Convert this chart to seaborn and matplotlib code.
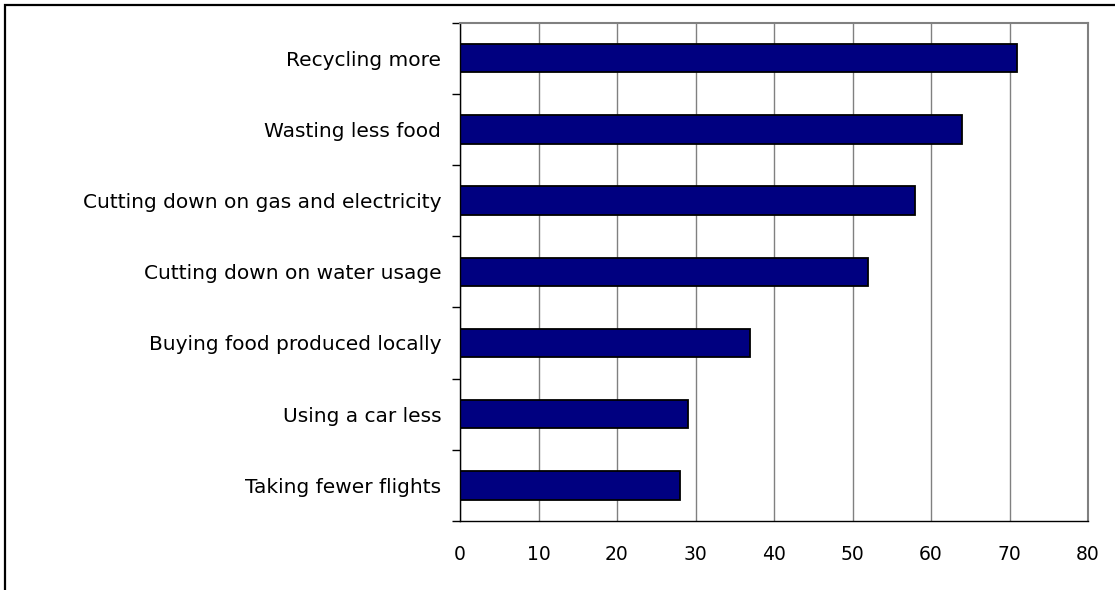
import matplotlib
matplotlib.use("Agg")
import matplotlib.pyplot as plt
from matplotlib.patches import Rectangle
from matplotlib.ticker import FixedLocator, MultipleLocator
import seaborn as sns
import pandas as pd

# Share of people taking each action (%)
actions = [
    "Recycling more",
    "Wasting less food",
    "Cutting down on gas and electricity",
    "Cutting down on water usage",
    "Buying food produced locally",
    "Using a car less",
    "Taking fewer flights",
]
percent = [71, 64, 58, 52, 37, 29, 28]
x_ticks = [0, 10, 20, 30, 40, 50, 60, 70, 80]

df = pd.DataFrame({"action": actions, "percent": percent})

sns.set_theme(style="white")
plt.rcParams["font.family"] = ["DejaVu Sans"]

W, H = 1115, 590
fig = plt.figure(figsize=(W / 100, H / 100), dpi=100)
ax = fig.add_axes([460 / W, 1 - 521 / H, (1088 - 460) / W, (521 - 22.5) / H])

sns.barplot(data=df, x="percent", y="action", orient="h", color="#000080",
            saturation=1, edgecolor="black", linewidth=1.3, width=0.4, ax=ax)

ax.set_xlim(0, 80)
ax.set_ylim(len(actions) - 0.5, -0.5)
ax.set_xlabel("")
ax.set_ylabel("")

# vertical gridlines
ax.xaxis.set_major_locator(FixedLocator(x_ticks))
ax.set_xticklabels([str(v) for v in x_ticks])
ax.grid(axis="x", color="#808080", linewidth=1.0)
ax.set_axisbelow(True)

# spines: black axes, gray frame on top/right
for side in ("left", "bottom"):
    ax.spines[side].set_color("black")
    ax.spines[side].set_linewidth(1.0)
for side in ("top", "right"):
    ax.spines[side].set_color("#808080")
    ax.spines[side].set_linewidth(1.5)

# x ticks point down; category ticks sit between bars
ax.tick_params(axis="x", which="major", direction="out", length=5, width=1,
               color="black", pad=12, labelsize=13.5, labelcolor="black")
ax.tick_params(axis="y", which="major", length=0, pad=13.5,
               labelsize=14.5, labelcolor="black")
ax.yaxis.set_minor_locator(MultipleLocator(1, offset=0.5))
ax.tick_params(axis="y", which="minor", direction="out", length=6, width=1,
               color="black", left=True)

# outer chart border
fig.patches.append(Rectangle((5 / W, -0.2), 1.2, 1.2 - 5 / H,
                             transform=fig.transFigure, fill=False,
                             edgecolor="black", linewidth=1.6))

fig.savefig("out.png", dpi=100)
